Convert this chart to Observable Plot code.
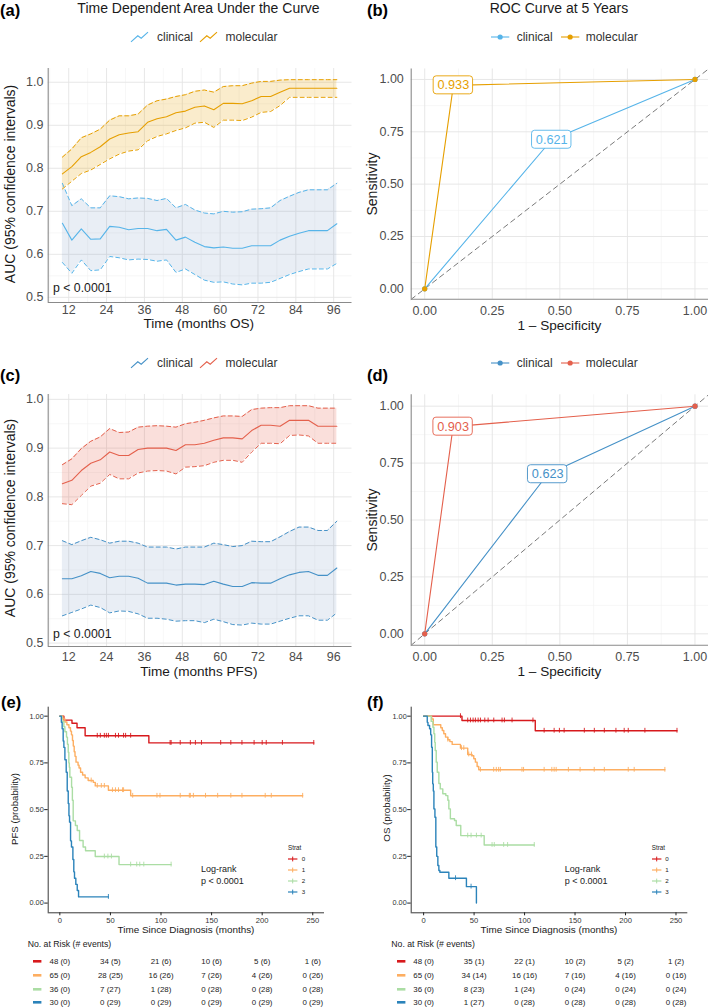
<!DOCTYPE html>
<html><head><meta charset="utf-8">
<script src="https://cdn.jsdelivr.net/npm/d3@7"></script>
<script src="https://cdn.jsdelivr.net/npm/@observablehq/plot@0.6"></script>
<style>
body{margin:0;background:#fff;}
#fig{position:relative;width:708px;height:1007px;overflow:hidden;font-family:"Liberation Sans",Arial,Helvetica,sans-serif;background:#fff;}
.t{position:absolute;white-space:nowrap;line-height:1;}
.p{position:absolute;line-height:0;}
.p svg{overflow:visible;display:block;}
</style></head><body><div id="fig"></div>
<script>
// ---------------- DATA ----------------
const aucTimes = [10,13,16,19,22,25,28,31,34,37,40,43,46,49,52,55,58,61,64,67,70,73,76,79,82,85,88,91,94,97];
// (a) OS
const osMol   = [0.787,0.804,0.827,0.837,0.850,0.868,0.878,0.882,0.885,0.907,0.915,0.920,0.929,0.933,0.942,0.945,0.936,0.951,0.951,0.950,0.957,0.967,0.967,0.977,0.986,0.986,0.986,0.986,0.986,0.986];
const osMolHi = [0.826,0.845,0.871,0.880,0.891,0.912,0.922,0.922,0.926,0.947,0.957,0.961,0.967,0.971,0.979,0.982,0.977,0.990,0.992,0.992,0.998,1.002,1.002,1.005,1.006,1.006,1.006,1.006,1.006,1.006];
const osMolLo = [0.752,0.770,0.788,0.796,0.809,0.822,0.833,0.840,0.843,0.864,0.874,0.880,0.888,0.894,0.905,0.907,0.895,0.912,0.912,0.911,0.919,0.930,0.932,0.946,0.965,0.965,0.965,0.965,0.965,0.965];
const osClin   = [0.672,0.633,0.659,0.635,0.636,0.665,0.663,0.657,0.660,0.660,0.655,0.658,0.633,0.640,0.628,0.618,0.615,0.617,0.614,0.614,0.620,0.620,0.620,0.633,0.642,0.649,0.655,0.655,0.655,0.671];
const osClinHi = [0.765,0.713,0.729,0.708,0.708,0.736,0.734,0.729,0.731,0.730,0.725,0.730,0.708,0.716,0.703,0.696,0.694,0.700,0.698,0.699,0.705,0.706,0.708,0.725,0.735,0.744,0.750,0.750,0.750,0.765];
const osClinLo = [0.581,0.556,0.587,0.562,0.564,0.595,0.592,0.587,0.589,0.588,0.584,0.587,0.558,0.566,0.553,0.540,0.535,0.536,0.531,0.529,0.533,0.533,0.535,0.544,0.553,0.560,0.566,0.566,0.566,0.579];
// (c) PFS
const pfsMol   = [0.827,0.834,0.854,0.869,0.876,0.892,0.885,0.885,0.897,0.900,0.900,0.900,0.895,0.907,0.907,0.910,0.916,0.921,0.921,0.919,0.936,0.947,0.947,0.945,0.957,0.957,0.957,0.945,0.945,0.945];
const pfsMolHi = [0.866,0.878,0.899,0.914,0.923,0.940,0.932,0.933,0.943,0.945,0.946,0.945,0.943,0.950,0.953,0.957,0.962,0.966,0.966,0.965,0.979,0.982,0.983,0.983,0.987,0.987,0.987,0.982,0.982,0.982];
const pfsMolLo = [0.786,0.784,0.803,0.822,0.828,0.846,0.837,0.837,0.849,0.853,0.854,0.853,0.847,0.861,0.862,0.864,0.871,0.875,0.875,0.871,0.892,0.910,0.910,0.909,0.926,0.927,0.925,0.910,0.910,0.910];
const pfsClin   = [0.632,0.632,0.638,0.647,0.643,0.634,0.637,0.637,0.633,0.623,0.623,0.623,0.619,0.621,0.621,0.620,0.627,0.621,0.616,0.616,0.624,0.623,0.623,0.632,0.640,0.645,0.647,0.639,0.639,0.654];
const pfsClinHi = [0.710,0.702,0.710,0.717,0.712,0.705,0.709,0.709,0.705,0.697,0.697,0.697,0.693,0.697,0.697,0.697,0.705,0.702,0.698,0.700,0.709,0.708,0.708,0.718,0.729,0.738,0.738,0.731,0.731,0.750];
const pfsClinLo = [0.556,0.563,0.570,0.578,0.573,0.562,0.566,0.565,0.560,0.551,0.551,0.549,0.545,0.546,0.546,0.542,0.549,0.544,0.538,0.537,0.541,0.539,0.539,0.545,0.551,0.556,0.556,0.547,0.547,0.562];
const aucTicksX = [12,24,36,48,60,72,84,96];
const aucMinorX = [6,18,30,42,54,66,78,90];
const aucTicksY = [0.5,0.6,0.7,0.8,0.9,1.0];
const aucMinorY = [0.55,0.65,0.75,0.85,0.95];

// (b) / (d) ROC at 5 years
const rocOSClinFpr = [0, 0.470, 1], rocOSClinTpr = [0, 0.712, 1];
const rocOSMolFpr  = [0, 0.106, 1], rocOSMolTpr  = [0, 0.972, 1];
const rocOSAuc = [0.621, 0.933];
const rocPFSClinFpr = [0, 0.455, 1], rocPFSClinTpr = [0, 0.701, 1];
const rocPFSMolFpr  = [0, 0.105, 1], rocPFSMolTpr  = [0, 0.910, 1];
const rocPFSAuc = [0.623, 0.903];
const rocTicks = [0, 0.25, 0.5, 0.75, 1];
const rocMinor = [0.125, 0.375, 0.625, 0.875];

// (e) PFS Kaplan-Meier by Strat
const pfsT0 = [0,4,12,17,25,88,251];
const pfsS0 = [1,0.979,0.962,0.938,0.895,0.857,0.857];
const pfsC0 = [37,40,44,46,48,55,58,63,65,70,109,110,119,129,134,140,159,169,180,192,200,204,220,251];
const pfsT1 = [0,3,5,7,9,10.5,11.5,12.5,13.3,14.2,15,16,18,19,20.5,22.5,25,28,33,35,48,70,240];
const pfsS1 = [1,0.985,0.969,0.954,0.938,0.920,0.900,0.870,0.840,0.810,0.785,0.754,0.738,0.723,0.700,0.685,0.670,0.656,0.646,0.627,0.604,0.574,0.574];
const pfsC1 = [31,37,41,44,52,55,58,62,63,72,96,99,119,128,129,132,144,156,169,180,203,209,240];
const pfsT2 = [0,2,4,5,6.6,7.5,8.3,8.9,9.4,9.9,11.6,12.4,13.2,15.4,17.2,19.5,23,25.4,35,58.5,110];
const pfsS2 = [1,0.972,0.944,0.917,0.888,0.850,0.807,0.750,0.727,0.673,0.620,0.550,0.440,0.415,0.388,0.335,0.300,0.280,0.249,0.206,0.206];
const pfsC2 = [44,47.5,51,70,76,79,83,110];
const pfsT3 = [0,1.5,2.3,3.3,4,5,6.3,7.3,8.3,9,9.6,10.6,11.5,12.9,13.8,14.5,15.8,17.2,18.5,48];
const pfsS3 = [1,0.967,0.933,0.867,0.833,0.767,0.700,0.600,0.533,0.467,0.433,0.333,0.300,0.233,0.167,0.133,0.100,0.067,0.033,0.033];
const pfsC3 = [48];

// (f) OS Kaplan-Meier by Strat
const osT0 = [0,38,110.6,251];
const osS0 = [1,0.977,0.922,0.922];
const osC0 = [36.5,43.7,46.4,49,51.3,54,56.3,60.6,63.9,69.5,77.7,80,87.6,108.3,119.4,129.3,134.5,139.2,159.2,169.1,179,190.5,198.7,202.7,219.2,251];
const osT1 = [0,8,9.6,17,18.5,20,21.7,24,26,28.3,36.5,43.7,48,49.7,51.3,53,54.6,239];
const osS1 = [1,0.985,0.954,0.938,0.923,0.906,0.888,0.874,0.864,0.849,0.829,0.795,0.788,0.772,0.754,0.731,0.713,0.713];
const osC1 = [24,37.5,39.8,44.7,47.4,56.3,69.4,72,74.3,76,97.4,99,119.4,127,129.3,131.3,143.4,155,169,179,202.7,208.6,239];
const osT2 = [0,7.5,9.2,10.2,11,11.5,12.5,13.5,15.1,16.5,19,22,24,25,26.5,30.6,32.3,36.8,60,109.6];
const osS2 = [1,0.972,0.941,0.906,0.860,0.816,0.754,0.700,0.640,0.611,0.585,0.575,0.550,0.504,0.451,0.442,0.415,0.361,0.311,0.311];
const osC2 = [43.7,47,52.3,57,67.8,70,79.3,83.2,109.6];
const osT3 = [0,3.6,4.3,5.9,7,7.9,8.6,9,9.6,10.2,11.2,12.1,13,14.1,15.1,16.1,25,42.4,52.3];
const osS3 = [1,0.967,0.950,0.933,0.900,0.834,0.700,0.638,0.600,0.504,0.459,0.300,0.250,0.201,0.174,0.165,0.133,0.088,0];
const osC3 = [31.6,47];

const strata = ["0","1","2","3"];
const kmTicksX = [0,50,100,150,200,250];
const kmTicksY = [0,0.25,0.5,0.75,1];
const riskTimes = [0,50,100,150,200,250];
const pfsRisk = [
  ["48 (0)","34 (5)","21 (6)","10 (6)","5 (6)","1 (6)"],
  ["65 (0)","28 (25)","16 (26)","7 (26)","4 (26)","0 (26)"],
  ["36 (0)","7 (27)","1 (28)","0 (28)","0 (28)","0 (28)"],
  ["30 (0)","0 (29)","0 (29)","0 (29)","0 (29)","0 (29)"]];
const osRisk = [
  ["48 (0)","35 (1)","22 (1)","10 (2)","5 (2)","1 (2)"],
  ["65 (0)","34 (14)","16 (16)","7 (16)","4 (16)","0 (16)"],
  ["36 (0)","8 (23)","1 (24)","0 (24)","0 (24)","0 (24)"],
  ["30 (0)","1 (27)","0 (28)","0 (28)","0 (28)","0 (28)"]];

// ---------------- STYLE ----------------
const FONT = '"Liberation Sans", Arial, Helvetica, sans-serif';
const cClinA = "#56B4E9", cMolA = "#E69F00";
const cClinC = "#4591C7", cMolC = "#E4604C";
const ribbonClin = "#6c8ebf";
const kmColors = ["#D7191C","#FDAE61","#ABDDA4","#2B83BA"];
const aucXDomain = [5.5, 101.8];
const rocDomain = [-0.05, 1.05];
const kmYDomain = [-0.052, 1.048];

const fig = document.getElementById("fig");
function txt(s, x, y, o = {}) {
  const d = document.createElement("div");
  d.className = "t";
  d.textContent = s;
  const a = o.anchor || "start";
  const tx = a === "middle" ? "-50%" : a === "end" ? "-100%" : "0";
  d.style.left = x + "px"; d.style.top = y + "px";
  d.style.fontSize = (o.size || 12) + "px";
  d.style.fontWeight = o.weight || "normal";
  d.style.color = o.color || "#1a1a1a";
  d.style.transform = o.rotate ? `translate(-50%,-50%) rotate(${o.rotate}deg)` : `translate(${tx},-50%)`;
  fig.appendChild(d);
}
function icon(inner, x, y, w, h) {
  const d = document.createElement("div");
  d.className = "p";
  d.style.left = x + "px"; d.style.top = y + "px";
  d.innerHTML = `<svg width="${w}" height="${h}" viewBox="0 0 ${w} ${h}">${inner}</svg>`;
  fig.appendChild(d);
}
function place(el, x, y) {
  const d = document.createElement("div");
  d.className = "p";
  d.style.left = x + "px"; d.style.top = y + "px";
  d.appendChild(el);
  fig.appendChild(d);
}

// ---------------- AUC PANELS ----------------
function aucPanel(o) {
  const rows = (v, lo, hi) => aucTimes.map((t, i) => ({t, v: v[i], lo: lo[i], hi: hi[i]}));
  const clin = rows(o.clin, o.clinLo, o.clinHi);
  const mol = rows(o.mol, o.molLo, o.molHi);
  const dash = {strokeWidth: 1, strokeDasharray: "4,3"};
  return Plot.plot({
    width: 354, height: o.height,
    marginLeft: 47.7, marginRight: 2.5, marginTop: o.mt, marginBottom: o.mb,
    x: {domain: aucXDomain}, y: {domain: o.yDomain},
    style: {fontFamily: FONT, background: "transparent", overflow: "visible"},
    marks: [
      Plot.gridX(aucMinorX, {stroke: "#f2f2f2", strokeOpacity: 1, strokeWidth: 0.6}),
      Plot.gridY(aucMinorY, {stroke: "#f2f2f2", strokeOpacity: 1, strokeWidth: 0.6}),
      Plot.gridX(aucTicksX, {stroke: "#e4e4e4", strokeOpacity: 1, strokeWidth: 0.9}),
      Plot.gridY(aucTicksY, {stroke: "#e4e4e4", strokeOpacity: 1, strokeWidth: 0.9}),
      Plot.areaY(clin, {x: "t", y1: "lo", y2: "hi", fill: ribbonClin, fillOpacity: 0.15}),
      Plot.areaY(mol, {x: "t", y1: "lo", y2: "hi", fill: o.cMol, fillOpacity: 0.2}),
      Plot.lineY(clin, {x: "t", y: "hi", stroke: o.cClin, ...dash}),
      Plot.lineY(clin, {x: "t", y: "lo", stroke: o.cClin, ...dash}),
      Plot.lineY(clin, {x: "t", y: "v", stroke: o.cClin, strokeWidth: 1.1}),
      Plot.lineY(mol, {x: "t", y: "hi", stroke: o.cMol, ...dash}),
      Plot.lineY(mol, {x: "t", y: "lo", stroke: o.cMol, ...dash}),
      Plot.lineY(mol, {x: "t", y: "v", stroke: o.cMol, strokeWidth: 1.1}),
      Plot.ruleX([aucXDomain[0]], {stroke: "#8a8a8a", strokeWidth: 1.1}),
      Plot.ruleY([o.yDomain[0]], {stroke: "#8a8a8a", strokeWidth: 1.1}),
      Plot.axisX(aucTicksX, {tickSize: 0, tickPadding: o.xPad, fontSize: 12.5, fill: "#4d4d4d", label: null}),
      Plot.axisY(aucTicksY, {tickSize: 0, tickPadding: 4.7, fontSize: 12.5, fill: "#4d4d4d", label: null, tickFormat: d3.format(".1f")})
    ]
  });
}

// ---------------- ROC PANELS ----------------
function rocPanel(o) {
  const pts = (f, s) => f.map((v, i) => ({f: v, s: s[i]}));
  const c = pts(o.clinFpr, o.clinTpr), m = pts(o.molFpr, o.molTpr);
  const lab = (p, v, col) => [
    Plot.rect([p], {x1: "f", x2: "f", y1: "s", y2: "s", insetLeft: -19.7, insetRight: -19.7, insetTop: -9, insetBottom: -9, fill: "white", stroke: col, strokeWidth: 0.9, rx: 3}),
    Plot.text([p], {x: "f", y: "s", text: () => v.toFixed(3), fill: col, fontSize: 12.7})
  ];
  return Plot.plot({
    width: 354, height: o.height,
    marginLeft: 56.7, marginRight: 0, marginTop: o.mt, marginBottom: o.mb,
    x: {domain: rocDomain}, y: {domain: rocDomain},
    style: {fontFamily: FONT, background: "transparent", overflow: "visible"},
    marks: [
      Plot.gridX(rocMinor, {stroke: "#f2f2f2", strokeOpacity: 1, strokeWidth: 0.6}),
      Plot.gridY(rocMinor, {stroke: "#f2f2f2", strokeOpacity: 1, strokeWidth: 0.6}),
      Plot.gridX(rocTicks, {stroke: "#e4e4e4", strokeOpacity: 1, strokeWidth: 0.9}),
      Plot.gridY(rocTicks, {stroke: "#e4e4e4", strokeOpacity: 1, strokeWidth: 0.9}),
      Plot.line(rocDomain.map(d => ({f: d, s: d})), {x: "f", y: "s", stroke: "#7a7a7a", strokeWidth: 1, strokeDasharray: "5,4"}),
      Plot.line(c, {x: "f", y: "s", stroke: o.cClin, strokeWidth: 1.1}),
      Plot.line(m, {x: "f", y: "s", stroke: o.cMol, strokeWidth: 1.1}),
      Plot.dot(c, {x: "f", y: "s", r: 2.6, fill: o.cClin}),
      Plot.dot(m, {x: "f", y: "s", r: 2.6, fill: o.cMol}),
      ...lab(c[1], o.auc[0], o.cClin),
      ...lab(m[1], o.auc[1], o.cMol),
      Plot.ruleX([rocDomain[0]], {stroke: "#8a8a8a", strokeWidth: 1.1}),
      Plot.ruleY([rocDomain[0]], {stroke: "#8a8a8a", strokeWidth: 1.1}),
      Plot.axisX(rocTicks, {tickSize: 0, tickPadding: o.xPad, fontSize: 12.5, fill: "#4d4d4d", label: null, tickFormat: d3.format(".2f")}),
      Plot.axisY(rocTicks, {tickSize: 0, tickPadding: 7.4, fontSize: 12.5, fill: "#4d4d4d", label: null, tickFormat: d3.format(".2f")})
    ]
  });
}

// ---------------- KM PANELS ----------------
function kmPanel(o) {
  const marks = [];
  o.groups.forEach((g, k) => {
    const steps = g.t.map((t, i) => ({t, s: g.s[i]}));
    const cens = g.c.map(t => ({t, s: g.s[Math.max(0, d3.bisectRight(g.t, t) - 1)]}));
    marks.push(Plot.line(steps, {x: "t", y: "s", curve: "step-after", stroke: kmColors[k], strokeWidth: 1.4}));
    marks.push(Plot.ruleX(cens, {x: "t", y1: "s", y2: "s", insetTop: -2.4, insetBottom: -2.4, stroke: kmColors[k], strokeWidth: 0.9}));
  });
  return Plot.plot({
    width: 354, height: 240,
    marginLeft: o.ml, marginRight: o.mr, marginTop: 6.7, marginBottom: 27.7,
    x: {domain: o.xDomain}, y: {domain: kmYDomain},
    style: {fontFamily: FONT, background: "transparent", overflow: "visible"},
    marks: [
      ...marks,
      Plot.ruleX([o.xDomain[0]], {stroke: "#222", strokeWidth: 0.9}),
      Plot.ruleY([kmYDomain[0]], {stroke: "#222", strokeWidth: 0.9}),
      Plot.axisX(kmTicksX, {tickSize: 3, tickPadding: 1.5, fontSize: 7.6, fill: "#333", stroke: "#222", label: null}),
      Plot.axisY(kmTicksY, {tickSize: 3.5, tickPadding: 1, fontSize: 7.3, fill: "#333", stroke: "#222", label: null, tickFormat: d3.format(".2f")})
    ]
  });
}
function riskPanel(o) {
  const rows = [];
  o.table.forEach((r, k) => r.forEach((lbl, j) => rows.push({t: riskTimes[j], row: k, lbl})));
  return Plot.plot({
    width: 354, height: 57,
    marginLeft: o.ml, marginRight: o.mr, marginTop: 11, marginBottom: 4.7,
    x: {domain: o.xDomain, axis: null}, y: {domain: [3, 0], axis: null},
    style: {fontFamily: FONT, background: "transparent", overflow: "visible"},
    marks: [Plot.text(rows, {x: "t", y: "row", text: "lbl", fontSize: 7.9, fill: "#222"})]
  });
}

// ---------------- BUILD ----------------
place(aucPanel({clin: osClin, clinLo: osClinLo, clinHi: osClinHi, mol: osMol, molLo: osMolLo, molHi: osMolHi,
  cClin: cClinA, cMol: cMolA, yDomain: [0.488, 1.032], height: 280, mt: 13, mb: 33, xPad: 3}), 0, 55);
place(aucPanel({clin: pfsClin, clinLo: pfsClinLo, clinHi: pfsClinHi, mol: pfsMol, molLo: pfsMolLo, molHi: pfsMolHi,
  cClin: cClinC, cMol: cMolC, yDomain: [0.493, 1.010], height: 300, mt: 14, mb: 34, xPad: 6}), 0, 380);
place(rocPanel({clinFpr: rocOSClinFpr, clinTpr: rocOSClinTpr, molFpr: rocOSMolFpr, molTpr: rocOSMolTpr, auc: rocOSAuc,
  cClin: cClinA, cMol: cMolA, height: 280, mt: 13.5, mb: 36.2, xPad: 7}), 354, 55);
place(rocPanel({clinFpr: rocPFSClinFpr, clinTpr: rocPFSClinTpr, molFpr: rocPFSMolFpr, molTpr: rocPFSMolTpr, auc: rocPFSAuc,
  cClin: cClinC, cMol: cMolC, height: 300, mt: 14.3, mb: 35.3, xPad: 7}), 354, 380);
const kmXDomainE = [-11.5, 261.6], kmXDomainF = [-12.3, 261.7];
place(kmPanel({groups: [{t: pfsT0, s: pfsS0, c: pfsC0}, {t: pfsT1, s: pfsS1, c: pfsC1}, {t: pfsT2, s: pfsS2, c: pfsC2}, {t: pfsT3, s: pfsS3, c: pfsC3}],
  xDomain: kmXDomainE, ml: 47.7, mr: 30}), 0, 700);
place(kmPanel({groups: [{t: osT0, s: osS0, c: osC0}, {t: osT1, s: osS1, c: osC1}, {t: osT2, s: osS2, c: osC2}, {t: osT3, s: osS3, c: osC3}],
  xDomain: kmXDomainF, ml: 56.7, mr: 20.7}), 354, 700);
place(riskPanel({table: pfsRisk, xDomain: kmXDomainE, ml: 47.7, mr: 30}), 0, 950);
place(riskPanel({table: osRisk, xDomain: kmXDomainF, ml: 56.7, mr: 20.7}), 354, 950);

// ---------------- TEXT, LEGENDS ----------------
const bold = {size: 16.5, weight: "bold", color: "#000"};
txt("(a)", 0, 10, bold); txt("(b)", 367, 10, bold);
txt("(c)", 0, 375, bold); txt("(d)", 367, 375, bold);
txt("(e)", 1, 702, bold); txt("(f)", 367, 702, bold);

txt("Time Dependent Area Under the Curve", 198.5, 7.5, {size: 14, anchor: "middle"});
txt("ROC Curve at 5 Years", 559, 7.5, {size: 14, anchor: "middle"});

function zig(col) {
  return `<polyline points="0,10.8 6.8,4.8 10.2,7.2 17,1.2" fill="none" stroke="${col}" stroke-width="1.1"/>`;
}
function dotKey(col) {
  return `<line x1="0" y1="4" x2="18.3" y2="4" stroke="${col}" stroke-width="1.1"/><circle cx="9.15" cy="4" r="2.6" fill="${col}"/>`;
}
icon(zig(cClinA), 131, 31, 17, 12); txt("clinical", 157, 37, {size: 12, color: "#333"});
icon(zig(cMolA), 200, 31, 17, 12); txt("molecular", 225.5, 37, {size: 12, color: "#333"});
icon(zig(cClinC), 131, 357, 17, 12); txt("clinical", 157, 363, {size: 12, color: "#333"});
icon(zig(cMolC), 200, 357, 17, 12); txt("molecular", 225.5, 363, {size: 12, color: "#333"});
icon(dotKey(cClinA), 490.7, 33, 19, 8); txt("clinical", 516.7, 37, {size: 12, color: "#333"});
icon(dotKey(cMolA), 561, 33, 19, 8); txt("molecular", 585.7, 37, {size: 12, color: "#333"});
icon(dotKey(cClinC), 490.7, 359, 19, 8); txt("clinical", 516.7, 363, {size: 12, color: "#333"});
icon(dotKey(cMolC), 561, 359, 19, 8); txt("molecular", 585.7, 363, {size: 12, color: "#333"});

// axis titles
txt("Time (months OS)", 198.8, 324, {size: 13.6, anchor: "middle"});
txt("AUC (95% confidence intervals)", 9.5, 184, {size: 14, rotate: -90});
txt("p < 0.0001", 53, 288, {size: 12.3});
txt("Time (months PFS)", 198.8, 671.5, {size: 13.6, anchor: "middle"});
txt("AUC (95% confidence intervals)", 9.5, 518, {size: 14, rotate: -90});
txt("p < 0.0001", 53, 634, {size: 12.3});
txt("1 \u2013 Specificity", 559.4, 326, {size: 13.6, anchor: "middle"});
txt("Sensitivity", 371.5, 183.5, {size: 14, rotate: -90});
txt("1 \u2013 Specificity", 559.4, 672, {size: 13.6, anchor: "middle"});
txt("Sensitivity", 371.5, 519.5, {size: 14, rotate: -90});

// KM titles and annotations
txt("Time Since Diagnosis (months)", 186, 929.5, {size: 9.9, anchor: "middle"});
txt("Time Since Diagnosis (months)", 549, 929.5, {size: 9.9, anchor: "middle"});
txt("PFS (probability)", 15, 809, {size: 9.7, rotate: -90});
txt("OS (probability)", 386.5, 807.5, {size: 9.7, rotate: -90});
txt("Log-rank", 201, 869.3, {size: 9, color: "#222"});
txt("p < 0.0001", 201, 880.7, {size: 9, color: "#222"});
txt("Log-rank", 564.7, 869.3, {size: 9, color: "#222"});
txt("p < 0.0001", 564.7, 880.7, {size: 9, color: "#222"});

function kmLegend(x0, xText) {
  txt("Strat", x0, 848.3, {size: 6.3, color: "#222"});
  const ys = [859.3, 870, 880.7, 891.5];
  strata.forEach((s, k) => {
    icon(`<line x1="0" y1="3" x2="9.4" y2="3" stroke="${kmColors[k]}" stroke-width="1.2"/><line x1="4.7" y1="0.6" x2="4.7" y2="5.4" stroke="${kmColors[k]}" stroke-width="1"/>`, x0 + 0.3, ys[k] - 3, 10, 6);
    txt(s, xText, ys[k], {size: 6.2, color: "#222"});
  });
}
kmLegend(288, 301.7);
kmLegend(651.7, 665.3);

function riskHeader(x, sw) {
  txt("No. at Risk (# events)", x, 944.3, {size: 8.7, color: "#222"});
  const ys = [961, 975, 989, 1002.3];
  ys.forEach((y, k) => icon(`<rect x="0" y="0" width="8.4" height="2.6" fill="${kmColors[k]}"/>`, sw, y - 1.3, 9, 3));
}
riskHeader(27.7, 33.3);
riskHeader(391.3, 397.3);
</script></body></html>
